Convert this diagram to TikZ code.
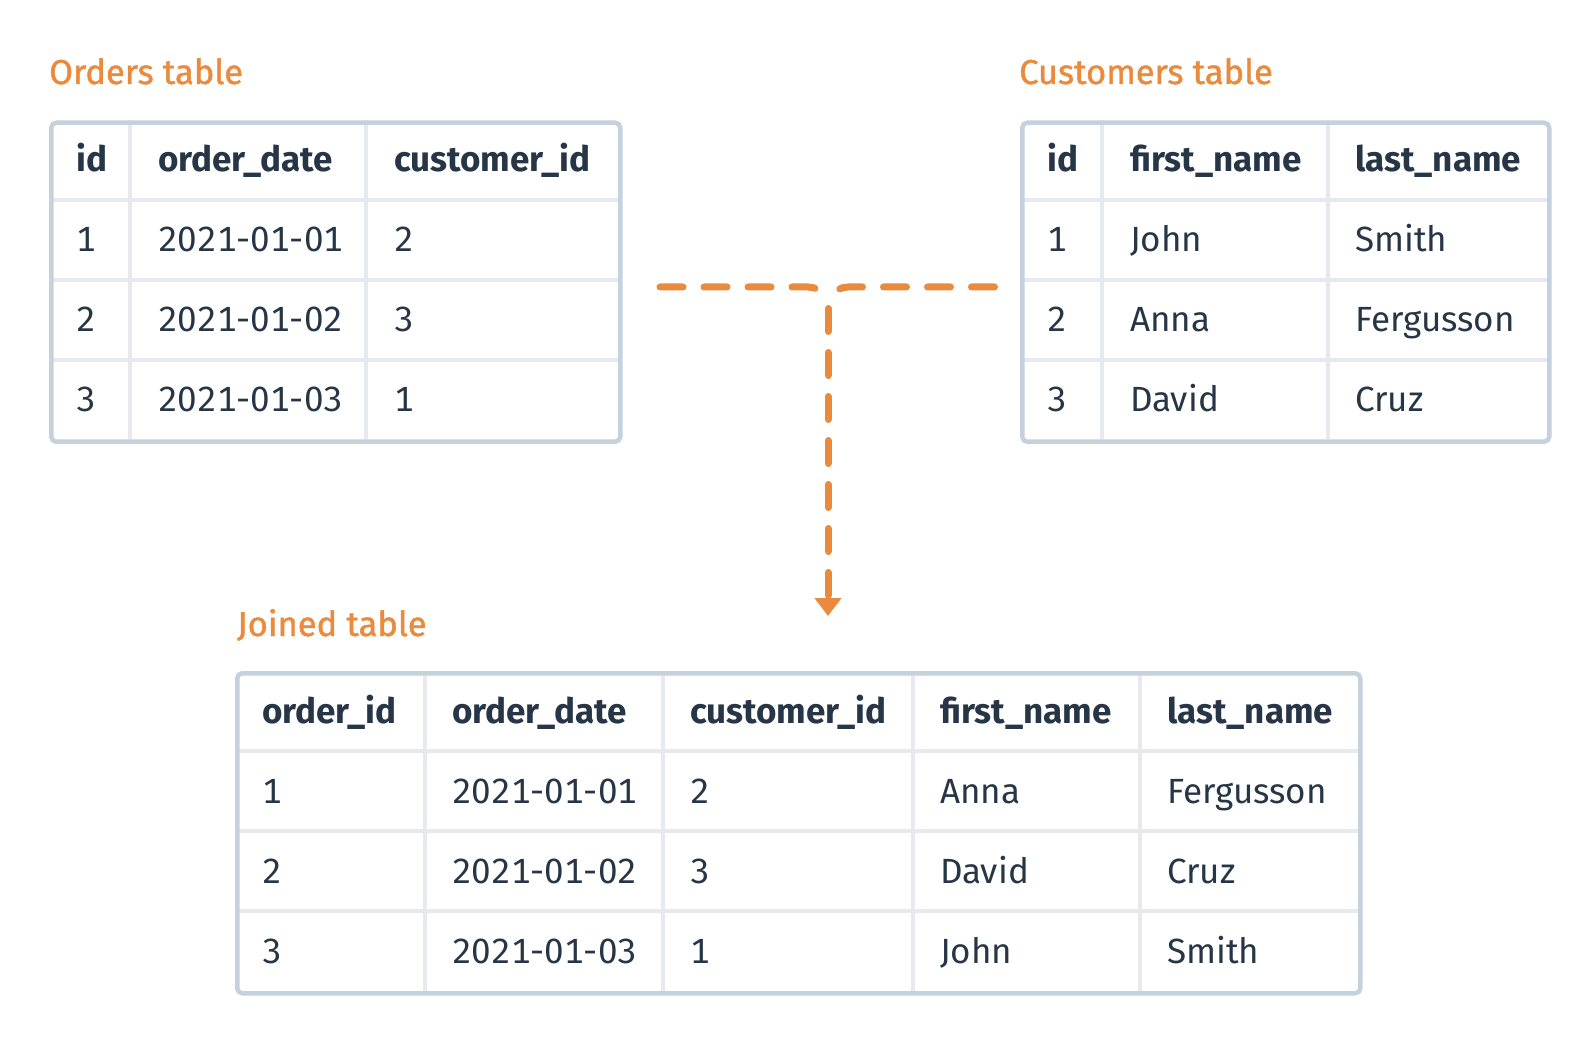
\documentclass[tikz,border=0pt]{standalone}
\usepackage{fontspec}
\setmainfont{Fira Sans}[Numbers={Lining,Monospaced}]
\newfontfamily\titlefont{Fira Sans}[FakeBold=1.2]
\usetikzlibrary{arrows.meta}
\definecolor{accent}{HTML}{E98A3C}
\definecolor{ink}{HTML}{263646}
\definecolor{framec}{HTML}{C5D1DB}
\definecolor{gridc}{HTML}{E6EAEF}
\begin{document}
\begin{tikzpicture}[x=1pt,y=-1pt,
  cell/.style={anchor=base west,inner sep=0pt,text=ink,font=\fontsize{35}{40}\selectfont},
  headcell/.style={cell,font=\fontsize{35}{40}\selectfont\bfseries},
  tabletitle/.style={anchor=base west,inner sep=0pt,text=accent,font=\titlefont\fontsize{34.5}{40}\selectfont},
  tableframe/.style={draw=framec,line width=4.5pt,rounded corners=5pt,anchor=north west,inner sep=0pt},
  gridline/.style={draw=gridc,line width=4pt},
  conn/.style={draw=accent,line width=7pt,line cap=round,dash pattern=on 23pt off 21pt}]
\useasboundingbox (0,0) rectangle (1596,1040);

% titles
\node[tabletitle] (ordersTitle) at (49,84) {Orders table};
\node[tabletitle] (customersTitle) at (1019,84) {Customers table};
\node[tabletitle] (joinedTitle) at (237,636) {Joined table};

% Orders table grid
\foreach \yy in {200,280,360} \draw[gridline] (49,\yy) -- (618,\yy);
\foreach \xx in {130,366} \draw[gridline] (\xx,120.5) -- (\xx,439.5);
\node[tableframe,minimum width=569pt,minimum height=319pt] (orders) at (49,120.5) {};

% Customers table grid
\foreach \yy in {200,280,360} \draw[gridline] (1020,\yy) -- (1547,\yy);
\foreach \xx in {1102,1328} \draw[gridline] (\xx,120.5) -- (\xx,439.5);
\node[tableframe,minimum width=527pt,minimum height=319pt] (customers) at (1020,120.5) {};

% Joined table grid
\foreach \yy in {751,831,911} \draw[gridline] (235,\yy) -- (1358,\yy);
\foreach \xx in {425,663,913,1140} \draw[gridline] (\xx,671) -- (\xx,991);
\node[tableframe,minimum width=1123pt,minimum height=320pt] (joined) at (235,671) {};

% Orders cells
\node[headcell] (o-h1) at (76,172) {id};
\node[headcell] (o-h2) at (158,172) {order\_date};
\node[headcell] (o-h3) at (394,172) {customer\_id};
\foreach \r/\yy/\a/\b/\c in {1/252/1/2021-01-01/2, 2/332/2/2021-01-02/3, 3/412/3/2021-01-03/1} {
  \node[cell] (o-\r-1) at (76,\yy) {\a};
  \node[cell] (o-\r-2) at (158,\yy) {\b};
  \node[cell] (o-\r-3) at (394,\yy) {\c};
}

% Customers cells
\node[headcell] (c-h1) at (1047,172) {id};
\node[headcell] (c-h2) at (1130,172) {first\_name};
\node[headcell] (c-h3) at (1355,172) {last\_name};
\foreach \r/\yy/\a/\b/\c in {1/252/1/John/Smith, 2/332/2/Anna/Fergusson, 3/412/3/David/Cruz} {
  \node[cell] (c-\r-1) at (1047,\yy) {\a};
  \node[cell] (c-\r-2) at (1130,\yy) {\b};
  \node[cell] (c-\r-3) at (1355,\yy) {\c};
}

% Joined cells
\node[headcell] (j-h1) at (262,723) {order\_id};
\node[headcell] (j-h2) at (452,723) {order\_date};
\node[headcell] (j-h3) at (690,723) {customer\_id};
\node[headcell] (j-h4) at (940,723) {first\_name};
\node[headcell] (j-h5) at (1167,723) {last\_name};
\foreach \r/\yy/\a/\b/\c/\d/\e in {1/803/1/2021-01-01/2/Anna/Fergusson, 2/883/2/2021-01-02/3/David/Cruz, 3/963/3/2021-01-03/1/John/Smith} {
  \node[cell] (j-\r-1) at (262,\yy) {\a};
  \node[cell] (j-\r-2) at (452,\yy) {\b};
  \node[cell] (j-\r-3) at (690,\yy) {\c};
  \node[cell] (j-\r-4) at (940,\yy) {\d};
  \node[cell] (j-\r-5) at (1167,\yy) {\e};
}

% connector
\coordinate (cL) at (660,287);
\coordinate (cR) at (994.5,287);
\coordinate (cJ) at (828,308.5);
\coordinate (cA) at (828,616);
\draw[conn] (cL) -- (808,287) arc[start angle=-90,end angle=-30,radius=20];
\draw[conn] (cR) -- (848,287) arc[start angle=-90,end angle=-150,radius=20];
\draw[conn,-{Triangle[width=26pt,length=18pt]}] (cJ) -- (cA);
\end{tikzpicture}
\end{document}
